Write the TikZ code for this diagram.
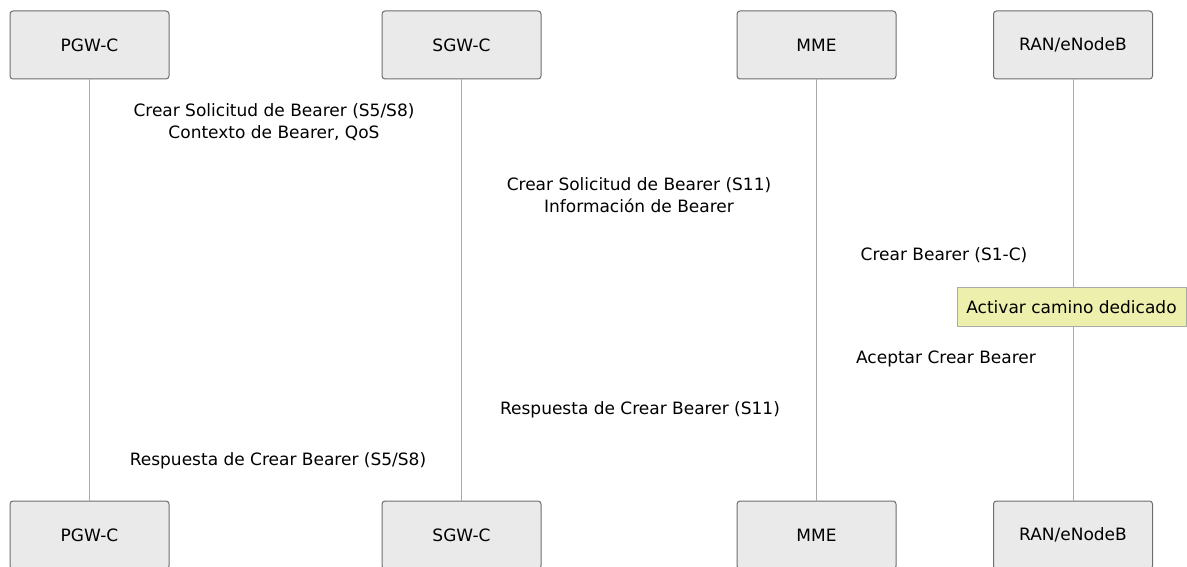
\documentclass[tikz,border=0pt]{standalone}
\usepackage{fontspec}
\setmainfont{DejaVu Sans}
\usetikzlibrary{positioning}
\definecolor{actfill}{RGB}{234,234,234}
\definecolor{actline}{RGB}{110,110,110}
\definecolor{lifeline}{RGB}{170,170,170}
\definecolor{notefill}{RGB}{237,240,172}
\tikzstyle{actor}=[draw=actline, line width=1pt, fill=actfill, rounded corners=3pt, minimum width=159pt, minimum height=68pt, inner sep=0pt, font=\fontsize{17}{21}\selectfont]
\tikzstyle{msg}=[align=center, inner sep=0pt, font=\fontsize{17}{22}\selectfont]
\tikzstyle{note}=[draw=lifeline, line width=1pt, fill=notefill, minimum height=39pt, minimum width=229pt, inner sep=0pt, font=\fontsize{17}{21}\selectfont]

\begin{document}
\begin{tikzpicture}[x=1pt,y=-1pt]
	\useasboundingbox (0,0) rectangle (1187,567);
	\node[actor] (pgw) at (89.5,45) {PGW-C};
	\node[actor] (sgw) at (461.5,45) {SGW-C};
	\node[actor] (mme) at (816.5,45) {MME};
	\node[actor] (ran) at (1073,45) {RAN/eNodeB};
	\node[actor] (pgwb) at (89.5,535) {PGW-C};
	\node[actor] (sgwb) at (461.5,535) {SGW-C};
	\node[actor] (mmeb) at (816.5,535) {MME};
	\node[actor] (ranb) at (1073,535) {RAN/eNodeB};
	\draw[lifeline, line width=1pt] (pgw) -- (pgwb);
	\draw[lifeline, line width=1pt] (sgw) -- (sgwb);
	\draw[lifeline, line width=1pt] (mme) -- (mmeb);
	\draw[lifeline, line width=1pt] (ran) -- (ranb);
	\node[msg] (m1) at (274,122) {Crear Solicitud de Bearer (S5/S8)\\Contexto de Bearer, QoS};
	\node[msg] (m2) at (639,195) {Crear Solicitud de Bearer (S11)\\Información de Bearer};
	\node[msg] (m3) at (944,255) {Crear Bearer (S1-C)};
	\node[note] (n1) at (1071.5,307) {Activar camino dedicado};
	\node[msg] (m4) at (946,359) {Aceptar Crear Bearer};
	\node[msg] (m5) at (640,410) {Respuesta de Crear Bearer (S11)};
	\node[msg] (m6) at (278,461) {Respuesta de Crear Bearer (S5/S8)};
\end{tikzpicture}
\end{document}
